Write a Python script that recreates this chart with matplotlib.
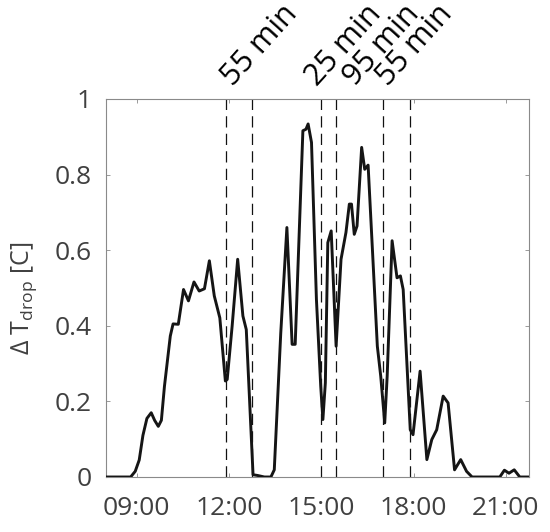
import matplotlib
matplotlib.use('Agg')
import matplotlib.pyplot as plt

plt.rcParams['font.family'] = ['Open Sans', 'DejaVu Sans']
plt.rcParams['mathtext.fontset'] = 'custom'
plt.rcParams['mathtext.rm'] = 'Open Sans'

###############################################################################
# Data (time of day in hours, temperature drop in C)
###############################################################################
HOURS = [
    8.00, 8.80, 8.95, 9.08, 9.20, 9.33, 9.47, 9.58, 9.70, 9.80,
    9.90, 10.00, 10.09, 10.18, 10.35, 10.52, 10.68, 10.86, 11.03, 11.20,
    11.36, 11.52, 11.70, 11.88, 11.94, 12.10, 12.28, 12.45, 12.56, 12.78,
    12.93, 13.15, 13.36, 13.47, 13.68, 13.88, 14.05, 14.15, 14.40, 14.50,
    14.57, 14.68, 14.84, 14.98, 15.05, 15.13, 15.21, 15.32, 15.48, 15.64,
    15.80, 15.91, 15.98, 16.07, 16.16, 16.31, 16.41, 16.52, 16.66, 16.82,
    16.93, 17.06, 17.14, 17.30, 17.46, 17.57, 17.66, 17.89, 17.98, 18.21,
    18.43, 18.59, 18.75, 18.96, 19.12, 19.33, 19.53, 19.72, 19.90, 20.80,
    20.95, 21.10, 21.27, 21.45, 21.75
]
DROP = [
    0.000, 0.000, 0.015, 0.045, 0.110, 0.155, 0.170, 0.150, 0.134, 0.150,
    0.240, 0.310, 0.373, 0.405, 0.404, 0.496, 0.466, 0.516, 0.492, 0.498,
    0.572, 0.479, 0.421, 0.254, 0.258, 0.399, 0.576, 0.426, 0.390, 0.006,
    0.004, 0.000, 0.000, 0.019, 0.380, 0.660, 0.351, 0.351, 0.916, 0.920,
    0.934, 0.885, 0.470, 0.240, 0.152, 0.249, 0.620, 0.651, 0.346, 0.576,
    0.647, 0.722, 0.722, 0.642, 0.664, 0.872, 0.814, 0.825, 0.602, 0.346,
    0.267, 0.143, 0.267, 0.625, 0.527, 0.532, 0.496, 0.125, 0.112, 0.280,
    0.046, 0.099, 0.125, 0.214, 0.196, 0.019, 0.046, 0.015, 0.000, 0.000,
    0.018, 0.010, 0.019, 0.000, 0.000
]
CUTS = [11.90, 12.76, 15.00, 15.49, 17.02, 17.87]
GAP_LABELS = ['55 min', '25 min', '95 min', '55 min']
GAP_POS = [12.14, 14.85, 16.10, 17.18]
XTICKS = [9, 12, 15, 18, 21]
XTICK_LABELS = ['09:00', '12:00', '15:00', '18:00', '21:00']
YTICKS = [0, 0.2, 0.4, 0.6, 0.8, 1]
YTICK_LABELS = ['0', '0.2', '0.4', '0.6', '0.8', '1']
###############################################################################
# Styles
###############################################################################
(W, H) = (550, 532)
STYLE_LN = {'color': '#151515', 'width': 2.1}
STYLE_DS = {'color': '#111111', 'width': 0.9, 'style': (0, (9, 5))}
STYLE_AX = {'color': '#8a8a8a', 'width': 0.8}
STYLE_TX = {'color': '#404040', 'size': 19}
###############################################################################
# Plot
###############################################################################
fig = plt.figure(figsize=(W/100, H/100), dpi=100)
ax = fig.add_axes([106/W, 1-477/H, 423/W, 378/H])
ax.plot(HOURS, DROP, color=STYLE_LN['color'], lw=STYLE_LN['width'], zorder=3)
ax.vlines(
    CUTS, 0, 1, colors=STYLE_DS['color'],
    linewidth=STYLE_DS['width'], linestyles=[STYLE_DS['style']]
)
for (pos, lbl) in zip(GAP_POS, GAP_LABELS):
    ax.text(
        pos, 1.032, lbl, rotation=48, rotation_mode='anchor',
        ha='left', va='baseline', fontsize=22, color='black', clip_on=False
    )
ax.set_xlim(8, 21.75)
ax.set_ylim(0, 1)
ax.set_xticks(XTICKS, XTICK_LABELS)
ax.set_yticks(YTICKS, YTICK_LABELS)
ax.tick_params(
    direction='in', length=3, width=0.6, color=STYLE_AX['color'],
    labelcolor=STYLE_TX['color'], labelsize=STYLE_TX['size'],
    top=True, right=True
)
ax.tick_params(axis='x', pad=14)
ax.tick_params(axis='y', pad=10)
for sp in ax.spines.values():
    sp.set_color(STYLE_AX['color'])
    sp.set_linewidth(STYLE_AX['width'])
fig.text(
    39/W, 1-298/H, '\u2206 T$_{\\mathregular{drop}}$ [C]',
    rotation=90, ha='right', va='center',
    fontsize=18, color=STYLE_TX['color']
)
fig.savefig('out.png', dpi=100, facecolor='white')
plt.close('all')
